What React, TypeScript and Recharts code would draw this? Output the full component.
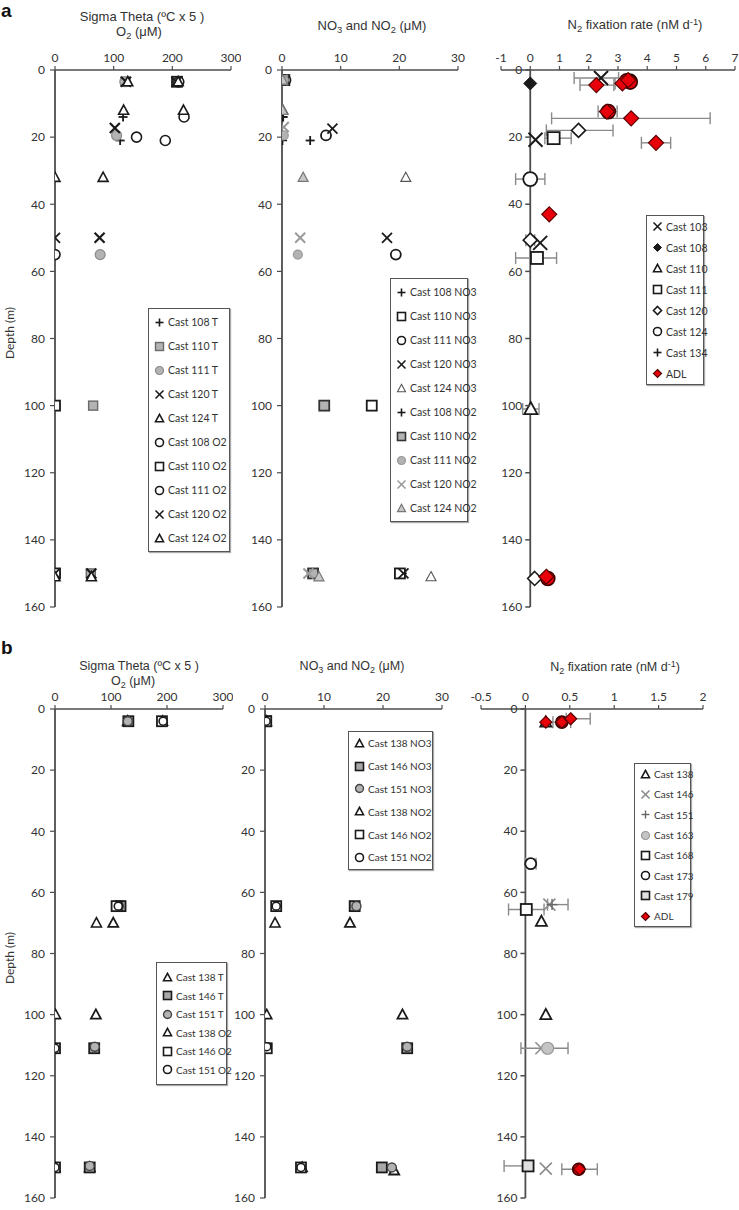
import React from 'react';
import { ScatterChart, Scatter, XAxis, YAxis, ErrorBar, Legend, ReferenceLine } from 'recharts';

// ---------------- tick labels ----------------
const DEPTH_TICKS = [0, 20, 40, 60, 80, 100, 120, 140, 160];
const O2_TICKS = [0, 100, 200, 300];
const NUT_TICKS = [0, 10, 20, 30];
const FIX_A_TICKS = [-1, 0, 1, 2, 3, 4, 5, 6, 7];
const FIX_B_TICKS = [-0.5, 0, 0.5, 1, 1.5, 2];

// ---------------- panel a: Sigma Theta / O2  [depth, value] ----------------
const aCast108T = [[3.5, 122], [14, 116], [21, 111], [150, 61]];
const aCast110T = [[3.5, 120], [100, 65], [150, 61]];
const aCast111T = [[3.5, 119], [19.5, 105], [55, 77]];
const aCast120T = [[3.5, 121], [17.3, 102], [50, 76], [150, 62]];
const aCast124T = [[3.5, 124], [12, 117], [32, 82], [151, 62]];
const aCast108O2 = [[3.5, 209], [14, 220], [21, 188], [150, 0]];
const aCast110O2 = [[3.5, 208], [100, 0], [150, 0]];
const aCast111O2 = [[3.5, 211], [20, 139], [55, 0]];
const aCast120O2 = [[3.5, 207], [50, 0], [150, 0]];
const aCast124O2 = [[3.5, 210], [12, 219], [32, 0], [151, 0]];

// ---------------- panel a: NO3 / NO2  [depth, value] ----------------
const aCast108NO3 = [[3, 0.3], [14, 0.2], [21, 4.8], [150, 20.5]];
const aCast110NO3 = [[3, 0.4], [100, 15.3], [150, 20.1]];
const aCast111NO3 = [[3, 0.6], [19.5, 7.5], [55, 19.4]];
const aCast120NO3 = [[3, 0.3], [17.5, 8.6], [50, 17.9], [150, 20.7]];
const aCast124NO3 = [[3, 0.2], [12, 0.2], [32, 21.1], [151, 25.4]];
const aCast108NO2 = [[3, 0], [14, 0.1], [21, 0.1], [150, 5]];
const aCast110NO2 = [[3, 0.2], [100, 7.2], [150, 5.3]];
const aCast111NO2 = [[3, 0.3], [19.5, 0.3], [55, 2.7]];
const aCast120NO2 = [[3, 0.1], [17, 0.3], [50, 3.1], [150, 4.5]];
const aCast124NO2 = [[3, 0.1], [12, 0.1], [32, 3.6], [151, 6.3]];

// ---------------- panel a: N2 fixation  [depth, rate, errLow, errHigh] ----------------
const aFix103 = [[2.4, 2.42, 0.92, 0.6], [20.8, 0.18], [51.5, 0.34]];
const aFix108 = [[4, 0]];
const aFix110 = [[101, 0.02, 0.28, 0.28]];
const aFix111 = [[20.3, 0.8, 0.3, 0.6], [56, 0.23, 0.73, 0.67]];
const aFix120 = [[18, 1.65, 1.1, 1.18], [50.7, 0, 0.15, 0.15], [151.5, 0.15]];
const aFix124 = [[32.5, 0, 0.5, 0.5], [3.3, 3.4]];
const aFix134 = [[3.5, 3.2]];
const aFixADL = [[4.5, 2.26, 0.56, 0.6], [4, 3.15, 0.25, 0.3], [3, 3.35], [12.4, 2.62, 0.3, 0.35], [14.4, 3.45, 2.72, 2.7], [21.7, 4.3, 0.5, 0.5], [43, 0.65], [151, 0.55]];
const aFixADLCircles = [[3.2, 3.3], [3.6, 3.42], [12.4, 2.67], [151.5, 0.6]];

// ---------------- panel b: Sigma Theta / O2 ----------------
const bCast138T = [[4, 130], [70, 104], [100, 73], [150, 62]];
const bCast146T = [[4, 131], [64.5, 117], [111, 70], [150, 62]];
const bCast151T = [[4, 130], [64.5, 114], [110.5, 71], [149.5, 62]];
const bCast138O2 = [[4, 192], [70, 74], [100, 1], [150, 0]];
const bCast146O2 = [[4, 191], [64.5, 110], [111, 0], [150, 0]];
const bCast151O2 = [[4, 193], [64.5, 113], [111, 0], [150, 0]];

// ---------------- panel b: NO3 / NO2 ----------------
const bCast138NO3 = [[4, 0.2], [70, 14.4], [100, 23.3], [151, 21.9]];
const bCast146NO3 = [[4, 0.2], [64.5, 15.2], [111, 24.1], [150, 19.8]];
const bCast151NO3 = [[4, 0.3], [64.5, 15.5], [110.5, 24.1], [150, 21.5]];
const bCast138NO2 = [[4, 0.1], [70, 1.7], [100, 0.3], [150, 6.3]];
const bCast146NO2 = [[4, 0.2], [64.5, 1.9], [111, 0.3], [150, 6.1]];
const bCast151NO2 = [[4, 0.2], [64.5, 1.9], [110.5, 0.3], [150, 6.1]];

// ---------------- panel b: N2 fixation ----------------
const bFix138 = [[4.3, 0.23], [69.5, 0.18], [100, 0.23]];
const bFix146 = [[64, 0.27], [111, 0.18], [150.4, 0.23]];
const bFix151 = [[64, 0.3, 0.05, 0.18]];
const bFix163 = [[111, 0.25, 0.3, 0.23]];
const bFix168 = [[65.6, 0.01, 0.2, 0.2]];
const bFix173 = [[50.6, 0.06, 0.06, 0.06]];
const bFix179 = [[149.5, 0.03, 0.27, 0]];
const bFixADL = [[4.3, 0.23], [4.3, 0.41, 0.1, 0.1], [3.2, 0.51, 0.05, 0.22], [150.6, 0.61, 0.2, 0.2]];
const bFixADLCircles = [[4.3, 0.41], [150.6, 0.6]];

// ---------------- styles ----------------
const BLACK = '#1a1a1a';
const GRAY = '#b3b3b3';
const RED = '#e8000b';
const AXIS = '#4d4d4d';
const TICK_FONT = 'Lato, "Open Sans", sans-serif';
const TITLE_FONT = '"Liberation Sans", Arial, sans-serif';

type Kind = 'plus' | 'x' | 'square' | 'circle' | 'triangle' | 'diamond';
interface Spec {
  name: string;
  data: number[][];
  kind: Kind;
  fill: string;
  stroke: string;
  sw: number;
  size: number;
  hidden?: boolean;
}

function Glyph({ cx, cy, spec, size }: { cx: number; cy: number; spec: Spec; size?: number }) {
  const s = size ?? spec.size;
  const h = s / 2;
  const common = { fill: spec.fill, stroke: spec.stroke, strokeWidth: spec.sw };
  if (cx == null || cy == null || isNaN(cx) || isNaN(cy)) return <g />;
  switch (spec.kind) {
    case 'circle':
      return <circle cx={cx} cy={cy} r={h} {...common} />;
    case 'square':
      return <rect x={cx - h} y={cy - h} width={s} height={s} {...common} />;
    case 'triangle':
      return <polygon points={`${cx},${cy - h * 1.05} ${cx + h},${cy + h * 0.8} ${cx - h},${cy + h * 0.8}`} {...common} />;
    case 'diamond':
      return <polygon points={`${cx},${cy - h} ${cx + h},${cy} ${cx},${cy + h} ${cx - h},${cy}`} {...common} />;
    case 'x':
      return (
        <g stroke={spec.stroke} strokeWidth={spec.sw} strokeLinecap="butt">
          <line x1={cx - h} y1={cy - h} x2={cx + h} y2={cy + h} />
          <line x1={cx - h} y1={cy + h} x2={cx + h} y2={cy - h} />
        </g>
      );
    case 'plus':
    default:
      return (
        <g stroke={spec.stroke} strokeWidth={spec.sw}>
          <line x1={cx - h} y1={cy} x2={cx + h} y2={cy} />
          <line x1={cx} y1={cy - h} x2={cx} y2={cy + h} />
        </g>
      );
  }
}

const mk = (name: string, data: number[][], kind: Kind, fill: string, stroke: string, sw: number, size: number, hidden = false): Spec =>
  ({ name, data, kind, fill, stroke, sw, size, hidden });

const a1Series: Spec[] = [
  mk('Cast 108 T', aCast108T, 'plus', 'none', BLACK, 1.8, 9),
  mk('Cast 110 T', aCast110T, 'square', GRAY, '#6a6a6a', 1.4, 9),
  mk('Cast 111 T', aCast111T, 'circle', GRAY, '#8a8a8a', 1.2, 10),
  mk('Cast 120 T', aCast120T, 'x', 'none', BLACK, 2.2, 10),
  mk('Cast 124 T', aCast124T, 'triangle', '#fff', BLACK, 1.6, 10),
  mk('Cast 108 O2', aCast108O2, 'circle', '#fff', BLACK, 1.6, 10),
  mk('Cast 110 O2', aCast110O2, 'square', '#fff', BLACK, 1.8, 10),
  mk('Cast 111 O2', aCast111O2, 'circle', '#fff', BLACK, 1.6, 10),
  mk('Cast 120 O2', aCast120O2, 'x', 'none', BLACK, 1.8, 10),
  mk('Cast 124 O2', aCast124O2, 'triangle', '#fff', BLACK, 1.6, 10),
];

const a2Series: Spec[] = [
  mk('Cast 108 NO3', aCast108NO3, 'plus', 'none', BLACK, 1.8, 9),
  mk('Cast 110 NO3', aCast110NO3, 'square', '#fff', BLACK, 1.8, 10),
  mk('Cast 111 NO3', aCast111NO3, 'circle', '#fff', BLACK, 1.8, 10),
  mk('Cast 120 NO3', aCast120NO3, 'x', 'none', BLACK, 1.8, 10),
  mk('Cast 124 NO3', aCast124NO3, 'triangle', '#fff', '#555', 1.1, 10),
  mk('Cast 108 NO2', aCast108NO2, 'plus', 'none', BLACK, 1.6, 9),
  mk('Cast 110 NO2', aCast110NO2, 'square', GRAY, '#333', 1.8, 10),
  mk('Cast 111 NO2', aCast111NO2, 'circle', GRAY, '#999', 1.2, 9),
  mk('Cast 120 NO2', aCast120NO2, 'x', 'none', '#9a9a9a', 2, 10),
  mk('Cast 124 NO2', aCast124NO2, 'triangle', '#c8c8c8', '#777', 1.2, 10),
];

const a3Series: Spec[] = [
  mk('Cast 103', aFix103, 'x', 'none', BLACK, 2, 14),
  mk('Cast 108', aFix108, 'diamond', BLACK, BLACK, 1, 13),
  mk('Cast 110', aFix110, 'triangle', '#fff', BLACK, 1.8, 13),
  mk('Cast 111', aFix111, 'square', '#fff', BLACK, 1.8, 12),
  mk('Cast 120', aFix120, 'diamond', '#fff', BLACK, 1.6, 14),
  mk('Cast 124', aFix124, 'circle', '#fff', BLACK, 1.8, 14),
  mk('Cast 134', aFix134, 'plus', 'none', BLACK, 1.6, 12),
  mk('ADL circles', aFixADLCircles, 'circle', RED, '#3a0000', 1.6, 14, true),
  mk('ADL', aFixADL, 'diamond', RED, '#5a0000', 1.2, 15),
];

const b1Series: Spec[] = [
  mk('Cast 138 T', bCast138T, 'triangle', '#fff', BLACK, 1.8, 10),
  mk('Cast 146 T', bCast146T, 'square', '#a8a8a8', BLACK, 1.8, 10),
  mk('Cast 151 T', bCast151T, 'circle', GRAY, '#444', 1.4, 9),
  mk('Cast 138 O2', bCast138O2, 'triangle', '#fff', BLACK, 1.6, 10),
  mk('Cast 146 O2', bCast146O2, 'square', '#fff', BLACK, 1.8, 10),
  mk('Cast 151 O2', bCast151O2, 'circle', '#fff', BLACK, 1.6, 8),
];

const b2Series: Spec[] = [
  mk('Cast 138 NO3', bCast138NO3, 'triangle', '#fff', BLACK, 1.8, 10),
  mk('Cast 146 NO3', bCast146NO3, 'square', '#a8a8a8', BLACK, 1.8, 10),
  mk('Cast 151 NO3', bCast151NO3, 'circle', GRAY, '#444', 1.4, 9),
  mk('Cast 138 NO2', bCast138NO2, 'triangle', '#fff', BLACK, 1.6, 10),
  mk('Cast 146 NO2', bCast146NO2, 'square', '#fff', BLACK, 1.8, 10),
  mk('Cast 151 NO2', bCast151NO2, 'circle', '#fff', BLACK, 1.6, 8),
];

const b3Series: Spec[] = [
  mk('Cast 138', bFix138, 'triangle', '#fff', BLACK, 1.8, 11),
  mk('Cast 146', bFix146, 'x', 'none', '#8c8c8c', 1.6, 12),
  mk('Cast 151', bFix151, 'plus', 'none', '#666', 1.4, 11),
  mk('Cast 163', bFix163, 'circle', '#c4c4c4', '#999', 1.2, 12),
  mk('Cast 168', bFix168, 'square', '#fff', BLACK, 1.8, 11),
  mk('Cast 173', bFix173, 'circle', '#fff', BLACK, 1.8, 11),
  mk('Cast 179', bFix179, 'square', '#e0e0e0', BLACK, 1.8, 11),
  mk('ADL circles', bFixADLCircles, 'circle', RED, '#3a0000', 1.6, 12, true),
  mk('ADL', bFixADL, 'diamond', RED, '#5a0000', 1.2, 12),
];

const toPoints = (arr: number[][]) =>
  arr.map(([d, v, lo, hi]) => ({ x: v, y: d, err: lo == null ? undefined : [lo, hi ?? lo] }));

interface LegendBox { left: number; top: number; width: number; rowH: number; pad: number; font: number; icon: number }

interface PanelProps {
  left: number; top: number; width: number; height: number;
  margin: { top: number; right: number; bottom: number; left: number };
  yw: number;
  domain: [number, number];
  ticks: number[];
  series: Spec[];
  legend: LegendBox;
  zeroAxis?: boolean;
}

function Panel(p: PanelProps) {
  const { left, top, width, height, margin, yw, domain, ticks, series, legend, zeroAxis } = p;
  const plotW = width - margin.left - margin.right - yw;
  const zx = margin.left + yw + ((0 - domain[0]) / (domain[1] - domain[0])) * plotW;

  const zeroTick = (props: any) => {
    const { y, payload } = props;
    return (
      <g>
        <line x1={zx - 5} x2={zx} y1={y} y2={y} stroke={AXIS} strokeWidth={1.5} />
        <text x={zx - 8} y={y} dy="0.35em" textAnchor="end" fontSize={12} fill="#333" fontFamily={TICK_FONT}>
          {payload.value}
        </text>
      </g>
    );
  };

  const legendContent = (props: any) => {
    const present = new Set((props.payload || []).map((e: any) => e.value));
    const items = series.filter((s) => !s.hidden && present.has(s.name));
    return (
      <div
        style={{
          border: '1px solid #555',
          boxShadow: '1px 1px 1px #aaa',
          background: '#fff',
          padding: `${legend.pad}px 0`,
          fontFamily: TICK_FONT,
          fontSize: legend.font,
          color: '#333',
        }}
      >
        {items.map((s) => (
          <div key={s.name} style={{ display: 'flex', alignItems: 'center', height: legend.rowH, paddingLeft: 5, whiteSpace: 'nowrap' }}>
            <svg width={11} height={11} style={{ marginRight: 3, flex: 'none' }}>
              <Glyph cx={5.5} cy={5.5} spec={{ ...s, sw: Math.min(s.sw, 1.6) }} size={legend.icon} />
            </svg>
            <span>{s.name}</span>
          </div>
        ))}
      </div>
    );
  };

  return (
    <div style={{ position: 'absolute', left, top }}>
      <ScatterChart width={width} height={height} margin={margin}>
        <XAxis
          type="number"
          dataKey="x"
          orientation="top"
          domain={domain}
          ticks={ticks}
          height={20}
          interval={0}
          allowDataOverflow
          stroke={AXIS}
          axisLine={{ stroke: AXIS, strokeWidth: 1.5 }}
          tickLine={{ stroke: AXIS, strokeWidth: 1.2 }}
          tickSize={4}
          tickMargin={4}
          tick={{ fontSize: 12, fill: '#333', fontFamily: TICK_FONT }}
        />
        {zeroAxis ? (
          <YAxis
            type="number"
            dataKey="y"
            reversed
            domain={[0, 160]}
            ticks={DEPTH_TICKS}
            interval={0}
            width={yw}
            axisLine={false}
            tickLine={false}
            tick={zeroTick}
          />
        ) : (
          <YAxis
            type="number"
            dataKey="y"
            reversed
            domain={[0, 160]}
            ticks={DEPTH_TICKS}
            interval={0}
            width={yw}
            axisLine={{ stroke: AXIS, strokeWidth: 1.8 }}
            tickLine={{ stroke: AXIS, strokeWidth: 1.2 }}
            tickSize={5}
            tickMargin={5}
            tick={{ fontSize: 12, fill: '#333', fontFamily: TICK_FONT }}
          />
        )}
        {zeroAxis && <ReferenceLine x={0} stroke={AXIS} strokeWidth={1.8} />}
        {series.map((s) => {
          const pts = toPoints(s.data);
          const hasErr = pts.some((q) => q.err);
          return (
            <Scatter
              key={s.name}
              name={s.name}
              data={pts}
              fill={s.fill === 'none' ? s.stroke : s.fill}
              legendType={s.hidden ? 'none' : 'circle'}
              isAnimationActive={false}
              shape={(props: any) => <Glyph cx={props.cx} cy={props.cy} spec={s} />}
            >
              {hasErr && <ErrorBar dataKey="err" direction="x" width={6} stroke="#8a8a8a" strokeWidth={1.4} />}
            </Scatter>
          );
        })}
        <Legend
          layout="vertical"
          align="center"
          verticalAlign="middle"
          content={legendContent}
          wrapperStyle={{ left: legend.left - left, top: legend.top - top, width: legend.width }}
        />
      </ScatterChart>
    </div>
  );
}

const Title = ({ cx, cy, size, children }: { cx: number; cy: number; size: number; children: React.ReactNode }) => (
  <div
    style={{
      position: 'absolute',
      left: cx - 110,
      top: cy - 9,
      width: 220,
      height: 18,
      lineHeight: '18px',
      textAlign: 'center',
      fontFamily: TITLE_FONT,
      fontSize: size,
      color: '#333',
      whiteSpace: 'nowrap',
    }}
  >
    {children}
  </div>
);

const Sub = ({ children }: { children: React.ReactNode }) => (
  <span style={{ fontSize: '0.72em', position: 'relative', top: '0.3em' }}>{children}</span>
);
const Sup = ({ children }: { children: React.ReactNode }) => (
  <span style={{ fontSize: '0.72em', position: 'relative', top: '-0.4em' }}>{children}</span>
);

const DepthLabel = ({ cy }: { cy: number }) => (
  <div
    style={{
      position: 'absolute',
      left: 10 - 40,
      top: cy - 8,
      width: 80,
      height: 16,
      lineHeight: '16px',
      textAlign: 'center',
      transform: 'rotate(-90deg)',
      fontFamily: TICK_FONT,
      fontSize: 12,
      color: '#333',
    }}
  >
    Depth (m)
  </div>
);

const PanelLetter = ({ top, text }: { top: number; text: string }) => (
  <div style={{ position: 'absolute', left: 1, top, fontFamily: TITLE_FONT, fontWeight: 'bold', fontSize: 19, lineHeight: '22px', color: '#111' }}>
    {text}
  </div>
);

export default function App() {
  return (
    <div style={{ position: 'absolute', left: 0, top: 0, width: 739, height: 1210, background: '#fff', overflow: 'hidden' }}>
      <PanelLetter top={0} text="a" />
      <PanelLetter top={637} text="b" />

      <Title cx={142} cy={17} size={13}>Sigma Theta (ºC x 5 )</Title>
      <Title cx={139} cy={32} size={13}>O<Sub>2</Sub> (μM)</Title>
      <Title cx={372} cy={26} size={13}>NO<Sub>3</Sub> and NO<Sub>2</Sub> (μM)</Title>
      <Title cx={635} cy={25} size={13}>N<Sub>2</Sub> fixation rate (nM d<Sup>-1</Sup>)</Title>

      <Title cx={139} cy={666} size={12.5}>Sigma Theta (ºC x 5 )</Title>
      <Title cx={133} cy={681} size={12.5}>O<Sub>2</Sub> (μM)</Title>
      <Title cx={352} cy={666} size={12.5}>NO<Sub>3</Sub> and NO<Sub>2</Sub> (μM)</Title>
      <Title cx={615} cy={667} size={12.5}>N<Sub>2</Sub> fixation rate (nM d<Sup>-1</Sup>)</Title>

      <DepthLabel cy={333} />
      <DepthLabel cy={958} />

      <Panel
        left={0} top={0} width={241} height={618}
        margin={{ top: 50, right: 10, bottom: 11, left: 25 }} yw={30}
        domain={[0, 300]} ticks={O2_TICKS} series={a1Series}
        legend={{ left: 148, top: 308, width: 82, rowH: 24, pad: 1, font: 10.5, icon: 8 }}
      />
      <Panel
        left={245} top={0} width={223} height={618}
        margin={{ top: 50, right: 10, bottom: 11, left: 7 }} yw={30}
        domain={[0, 30]} ticks={NUT_TICKS} series={a2Series}
        legend={{ left: 390, top: 278, width: 78, rowH: 24, pad: 1, font: 10.5, icon: 8 }}
      />
      <Panel
        left={470} top={0} width={269} height={618}
        margin={{ top: 50, right: 4, bottom: 11, left: 30 }} yw={1}
        domain={[-1, 7]} ticks={FIX_A_TICKS} series={a3Series} zeroAxis
        legend={{ left: 646, top: 215, width: 58, rowH: 21, pad: 0, font: 10.5, icon: 8 }}
      />

      <Panel
        left={0} top={620} width={233} height={589}
        margin={{ top: 69, right: 10, bottom: 11, left: 25 }} yw={30}
        domain={[0, 300]} ticks={O2_TICKS} series={b1Series}
        legend={{ left: 156, top: 962, width: 71, rowH: 18.5, pad: 5, font: 10, icon: 8 }}
      />
      <Panel
        left={230} top={620} width={222} height={589}
        margin={{ top: 69, right: 10, bottom: 11, left: 5 }} yw={30}
        domain={[0, 30]} ticks={NUT_TICKS} series={b2Series}
        legend={{ left: 348, top: 731, width: 85, rowH: 22.8, pad: 0, font: 10, icon: 8 }}
      />
      <Panel
        left={460} top={620} width={253} height={589}
        margin={{ top: 69, right: 10, bottom: 11, left: 20 }} yw={1}
        domain={[-0.5, 2]} ticks={FIX_B_TICKS} series={b3Series} zeroAxis
        legend={{ left: 634, top: 763, width: 57, rowH: 20.3, pad: 0, font: 10, icon: 8 }}
      />
    </div>
  );
}
